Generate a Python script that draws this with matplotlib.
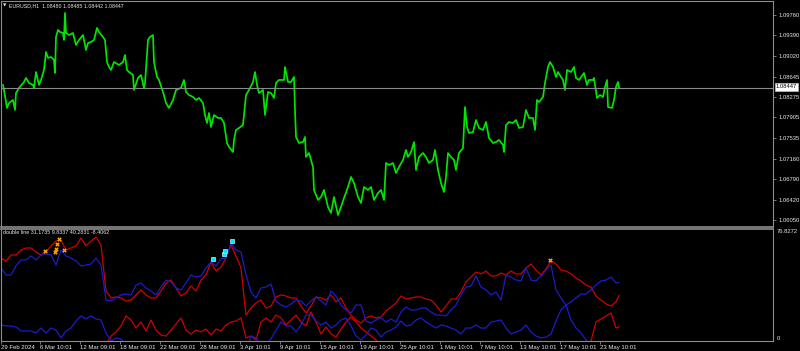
import matplotlib
matplotlib.use("Agg")
import matplotlib.pyplot as plt
import numpy as np

# EURUSD H1 close: bar position and price
price_bar = [2, 3, 6, 8, 12, 14, 15, 18, 23, 25,
             28, 32, 33, 35, 38, 40, 43, 45, 47, 50,
             53, 54, 55, 57, 59, 62, 63, 64, 65, 68,
             72, 75, 78, 82, 85, 87, 90, 93, 96, 98,
             102, 104, 106, 108, 110, 113, 118, 122, 124, 126,
             128, 132, 133, 137, 140, 143, 144, 147, 149, 152,
             153, 156, 158, 162, 165, 168, 172, 175, 180, 183,
             185, 188, 192, 195, 198, 202, 204, 206, 208, 210,
             213, 217, 220, 223, 226, 228, 232, 233, 235, 238,
             242, 245, 248, 252, 254, 256, 258, 262, 264, 267,
             270, 273, 275, 278, 283, 284, 287, 290, 293, 294,
             295, 298, 302, 304, 305, 308, 312, 313, 317, 320,
             323, 327, 330, 333, 337, 340, 343, 347, 350, 353,
             357, 360, 363, 367, 370, 373, 377, 380, 383, 385,
             388, 392, 395, 398, 402, 405, 407, 410, 413, 415,
             418, 422, 425, 428, 432, 434, 437, 440, 443, 445,
             447, 450, 453, 455, 458, 462, 464, 466, 468, 472,
             475, 478, 482, 485, 488, 492, 495, 498, 502, 503,
             505, 508, 512, 515, 518, 522, 525, 528, 532, 534,
             536, 538, 542, 544, 547, 549, 552, 555, 557, 560,
             562, 564, 566, 570, 573, 575, 578, 583, 586, 588,
             592, 593, 596, 599, 602, 604, 606, 607, 611, 613,
             615, 617, 618]
price_close = [1.08493, 1.08403, 1.08077, 1.08167, 1.08222, 1.08041, 1.08348, 1.08439, 1.08547, 1.08620,
               1.08529, 1.08493, 1.08439, 1.08728, 1.08493, 1.08584, 1.08765, 1.09090, 1.08982, 1.09000,
               1.08946, 1.08710, 1.09362, 1.09489, 1.09452, 1.09434, 1.09308, 1.09796, 1.09434, 1.09398,
               1.09434, 1.09217, 1.09308, 1.09398, 1.09127, 1.09253, 1.09271, 1.09308, 1.09525, 1.09452,
               1.09362, 1.09308, 1.08909, 1.08819, 1.08765, 1.08909, 1.08855, 1.08909, 1.09036, 1.08765,
               1.08728, 1.08674, 1.08403, 1.08620, 1.08674, 1.08439, 1.08529, 1.09308, 1.09362, 1.09398,
               1.08909, 1.08638, 1.08584, 1.08366, 1.08167, 1.08077, 1.08222, 1.08403, 1.08439, 1.08584,
               1.08366, 1.08312, 1.08276, 1.08222, 1.08258, 1.08167, 1.07950, 1.07805, 1.07986, 1.07733,
               1.07950, 1.07896, 1.07896, 1.07805, 1.07443, 1.07371, 1.07280, 1.07498, 1.07679, 1.07715,
               1.07769, 1.08312, 1.08403, 1.08547, 1.08728, 1.08493, 1.08348, 1.08403, 1.07950, 1.08366,
               1.08348, 1.08258, 1.08529, 1.08584, 1.08584, 1.08819, 1.08547, 1.08547, 1.08638, 1.08041,
               1.07552, 1.07443, 1.07461, 1.07552, 1.07190, 1.07262, 1.07009, 1.06593, 1.06412, 1.06466,
               1.06593, 1.06285, 1.06176, 1.06466, 1.06140, 1.06285, 1.06448, 1.06647, 1.06828, 1.06719,
               1.06466, 1.06357, 1.06647, 1.06593, 1.06647, 1.06412, 1.06538, 1.06593, 1.06412, 1.07081,
               1.07045, 1.07081, 1.06900, 1.07009, 1.07136, 1.07317, 1.07190, 1.07280, 1.07461, 1.06955,
               1.07190, 1.07262, 1.07190, 1.07081, 1.07136, 1.07317, 1.06955, 1.06719, 1.06556, 1.06828,
               1.07262, 1.07190, 1.07136, 1.06955, 1.07262, 1.07353, 1.08095, 1.07733, 1.07624, 1.07642,
               1.07860, 1.07715, 1.07679, 1.07823, 1.07534, 1.07443, 1.07461, 1.07498, 1.07407, 1.07280,
               1.07769, 1.07823, 1.07805, 1.07860, 1.07715, 1.07733, 1.08041, 1.07896, 1.07896, 1.07679,
               1.08222, 1.08185, 1.08276, 1.08529, 1.08819, 1.08909, 1.08819, 1.08638, 1.08728, 1.08638,
               1.08584, 1.08403, 1.08765, 1.08728, 1.08819, 1.08620, 1.08584, 1.08710, 1.08493, 1.08584,
               1.08584, 1.08620, 1.08258, 1.08312, 1.08276, 1.08457, 1.08584, 1.08095, 1.08077, 1.08222,
               1.08457, 1.08547, 1.08447]

last_price = 1.08447
title_text = "EURUSD,H1  1.08480 1.08485 1.08442 1.08447"
price_ticks = [1.09760, 1.09390, 1.09020, 1.08645, 1.08275, 1.07905,
               1.07535, 1.07160, 1.06790, 1.06420, 1.06050]

date_bar = [0, 39, 79, 119, 159, 199, 239, 279, 319, 359, 399, 439, 479, 519, 559, 599]
date_labels = ["29 Feb 2024", "6 Mar 10:01", "12 Mar 09:01", "18 Mar 09:01",
               "22 Mar 09:01", "28 Mar 09:01", "3 Apr 10:01", "9 Apr 10:01",
               "15 Apr 10:01", "19 Apr 10:01", "25 Apr 10:01", "1 May 10:01",
               "7 May 10:01", "13 May 10:01", "17 May 10:01", "23 May 10:01"]

# "double line" indicator, sampled every 5 bars (+ last bar)
ind_bar = np.r_[np.arange(0, 620, 5), 618]
ind_name = "double line 31.1735 9.8337 40.2831 -8.4062"
ind_max = 76.8272

red_up = [56.9, 54.9, 59.0, 59.0, 62.4, 63.8, 63.8, 61.1, 59.0, 61.1,
          65.2, 68.6, 69.3, 62.4, 63.8, 65.2, 70.7, 65.2, 68.6, 71.3,
          65.9, 34.3, 29.5, 30.2, 29.5, 27.4, 28.1, 31.6, 35.0, 31.6,
          29.5, 29.5, 34.3, 39.8, 41.8, 36.4, 30.9, 32.9, 37.7, 34.3,
          41.8, 45.3, 54.2, 48.0, 50.8, 56.9, 65.9, 58.3, 50.1, 17.8,
          22.6, 26.1, 28.1, 22.6, 24.0, 30.2, 31.6, 30.9, 29.5, 29.5,
          24.0, 19.2, 24.0, 30.2, 29.5, 28.1, 31.6, 26.8, 29.5, 22.6,
          17.8, 14.4, 12.3, 15.8, 17.2, 15.8, 16.5, 20.6, 23.3, 26.1,
          30.9, 28.8, 29.5, 30.2, 30.2, 28.8, 28.1, 24.7, 19.9, 24.0,
          28.8, 28.8, 33.6, 40.5, 43.9, 47.3, 46.0, 48.0, 44.6, 44.6,
          46.6, 45.3, 48.0, 46.0, 46.0, 50.1, 52.8, 48.7, 45.3, 49.4,
          54.9, 52.8, 48.7, 48.0, 46.0, 43.2, 41.2, 38.4, 37.0, 30.9,
          28.1, 25.4, 24.0, 26.8, 31.1735]
red_lo = [-6.2] * 20 + [
          -6.2, -2.7, 3.4, 6.2, 10.3, 17.2, 14.4, 8.9, 13.0, 6.9,
          14.4, 7.5, 4.1, 3.4, 7.5, 11.7, 15.8, 7.5, 4.8, 7.5,
          6.2, 8.2, 4.1, 8.2, 6.9, 11.0, 13.0, 13.7, 15.8, 2.1,
          3.4, 0.7, 13.0, 15.8, 13.0, 17.8, 15.8, 11.0, 14.4, 17.8,
          13.0, 10.3, 19.9, 13.0, 4.8, 9.6, 4.8, 2.7, 8.2, 13.0,
          16.5, 13.0, 8.9, 6.2, 3.4, 0.7, -2.7, -6.2, -6.2, -6.2] + [-6.2] * 38 + [
          0.0, 13.0, 15.1, 17.2, 19.2, 8.9, 9.8337]
blue_up = [50.1, 45.3, 45.3, 51.5, 55.6, 55.6, 58.3, 55.6, 59.0, 59.7,
           59.0, 52.1, 62.4, 58.3, 56.9, 54.9, 51.5, 52.1, 52.8, 56.9,
           52.1, 28.1, 27.4, 29.5, 31.6, 32.2, 31.6, 38.4, 39.8, 36.4,
           34.3, 31.6, 37.0, 41.8, 40.5, 36.4, 35.0, 39.8, 45.3, 43.9,
           44.6, 50.1, 54.2, 51.5, 56.3, 56.9, 67.2, 62.4, 61.1, 45.3,
           33.6, 29.5, 36.4, 37.0, 39.1, 27.4, 24.7, 23.3, 25.4, 28.1,
           27.4, 24.0, 27.4, 30.2, 27.4, 24.7, 34.3, 30.9, 24.7, 21.3,
           19.2, 24.7, 24.7, 13.7, 12.3, 14.4, 15.8, 13.0, 15.1, 13.0,
           19.9, 23.3, 21.3, 21.3, 22.6, 22.6, 19.9, 17.8, 17.8, 17.2,
           21.3, 24.7, 31.6, 37.0, 37.7, 44.6, 37.0, 35.0, 31.6, 33.6,
           28.1, 45.3, 43.9, 41.8, 41.2, 50.1, 41.8, 41.2, 44.6, 48.7,
           52.1, 35.0, 29.5, 24.7, 26.8, 29.5, 32.2, 32.2, 35.0, 38.4,
           41.2, 41.8, 43.9, 39.8, 40.2831]
blue_lo = [11.0, 10.3, 10.3, 9.6, 6.9, 6.9, 6.9, 5.5, 8.9, 5.5,
           8.9, 7.5, 2.1, 6.9, 8.9, 13.7, 17.2, 15.1, 17.2, 15.1,
           14.4, 5.5, 0.0, 2.1, 1.4, -2.7, -6.2, -6.2, -6.2, -6.2] + [-6.2] * 20 + [
           3.4, 2.1, -2.7, -2.7, 1.4, 7.5, 13.0, 10.3, 10.3, 6.2,
           11.0, 17.8, 17.8, 13.7, 11.0, 13.0, 8.9, 11.0, 14.4, 15.8,
           10.3, 3.4, 0.7, 4.1, 8.9, 7.5, 2.7, 6.2, 7.5, 9.6,
           13.7, 10.3, 11.0, 14.4, 15.8, 13.0, 11.0, 8.9, 11.0, 10.3,
           8.9, 7.5, 4.8, 8.9, 8.9, 11.0, 8.9, 8.9, 13.0, 13.7,
           14.4, 8.9, 4.8, 6.2, 7.5, 11.0, 6.2, 3.4, 2.1, 2.7,
           4.8, 13.7, 21.3, 24.7, 14.4, 8.9, 5.5, 0.7, -4.1, -6.2,
           -6.2, -6.2, -6.2, -6.2, -8.4062]

# signal arrows on the indicator
sell_bar = [44, 54, 55, 56, 58, 63, 549]
sell_val = [61.7, 61.1, 63.1, 66.5, 70.0, 62.4, 55.6]
buy_bar = [212, 223, 224, 231]
buy_val = [56.3, 59.7, 61.7, 68.6]

W, H = 800, 351
frame_col = "#8c8c8c"
text_col = "#e6e6e6"
plt.rcParams['font.family'] = ['Liberation Sans', 'DejaVu Sans']

fig = plt.figure(figsize=(W / 100, H / 100), dpi=100, facecolor="black")
ax = fig.add_axes([1 / W, 1 - 227 / H, 772 / W, 226 / H], facecolor="black")
ax2 = fig.add_axes([1 / W, 1 - 341 / H, 772 / W, 112 / H], facecolor="black")

# main price window
ax.plot(price_bar, price_close, color="#00e600", lw=1.25)
ax.axhline(last_price, color="#8a8a8a", lw=0.8)
ax.set_xlim(0, 772)
ax.set_ylim(1.05923, 1.10013)
ax.set_xticks([])
ax.yaxis.tick_right()
ax.set_yticks(price_ticks)
ax.set_yticklabels(["%.5f" % p for p in price_ticks])
ax.tick_params(axis="y", colors=frame_col, labelcolor=text_col, length=2.5,
               width=0.6, pad=1.2, labelsize=4.2)

# indicator window
ax2.plot(ind_bar, red_up, color="#d00000", lw=0.9)
ax2.plot(ind_bar, red_lo, color="#d00000", lw=0.9)
ax2.plot(ind_bar, blue_up, color="#1c1cc8", lw=0.9)
ax2.plot(ind_bar, blue_lo, color="#1c1cc8", lw=0.9)
ax2.plot(sell_bar, sell_val, ls="none", marker="X", ms=3.2, color="#ffa200",
         markeredgewidth=0)
ax2.plot(buy_bar, buy_val, ls="none", marker="s", ms=2.6, color="#00e8f0",
         markeredgecolor="#a0ffff", markeredgewidth=0.5)
ax2.set_xlim(0, 772)
ax2.set_ylim(0, ind_max)
ax2.set_xticks(date_bar)
ax2.set_xticklabels(date_labels)
for lbl in ax2.get_xticklabels():
    lbl.set_horizontalalignment("left")
ax2.tick_params(axis="x", colors=frame_col, labelcolor=text_col, length=2,
                width=0.6, pad=1.0, labelsize=4.3)
ax2.yaxis.tick_right()
ax2.set_yticks([0, ind_max])
ax2.set_yticklabels(["0", "76.8272"])
ax2.tick_params(axis="y", length=0, pad=2.5, labelsize=4.2, labelcolor=text_col)
ylbls = ax2.get_yticklabels()
ylbls[0].set_verticalalignment("bottom")
ylbls[1].set_verticalalignment("top")

for a in (ax, ax2):
    for s in a.spines.values():
        s.set_color(frame_col)
        s.set_linewidth(0.8)
ax.spines["bottom"].set_linewidth(1.2)
ax2.spines["top"].set_linewidth(1.2)

# header texts
fig.text(3 / W, 1 - 5.5 / H, "\u25bc", color=text_col, fontsize=3.2,
         family="DejaVu Sans", va="center", ha="left")
fig.text(9 / W, 1 - 5.5 / H, title_text, color=text_col, fontsize=3.8,
         va="center", ha="left")
fig.text(3 / W, 1 - 233 / H, ind_name, color=text_col, fontsize=3.9,
         va="center", ha="left")
fig.text(776 / W, 1 - 87 / H, "%.5f" % last_price, color="black", fontsize=4.2,
         va="center", ha="left",
         bbox=dict(boxstyle="square,pad=0.2", fc="white", ec="#c0c0c0", lw=0.5))

fig.savefig("out.png", dpi=100, facecolor="black")
